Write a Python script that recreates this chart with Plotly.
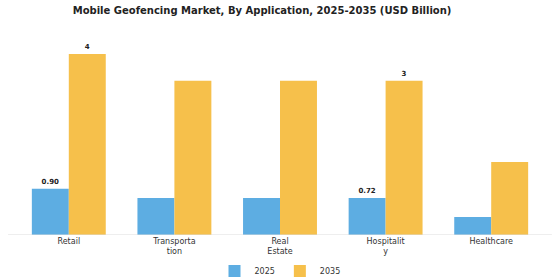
import plotly.graph_objects as go

categories = ["Retail", "Transporta<br>tion", "Real<br>Estate", "Hospitalit<br>y", "Healthcare"]
values_2025 = [0.90, 0.72, 0.72, 0.72, 0.35]
values_2035 = [3.52, 3.00, 3.00, 3.00, 1.42]
labels_2025 = ["0.90", "", "", "0.72", ""]
labels_2035 = ["4", "", "", "3", ""]

font_family = "DejaVu Sans, Verdana, sans-serif"

fig = go.Figure()
fig.add_trace(go.Bar(
    x=categories, y=values_2025, name="2025",
    marker=dict(color="#5DADE2", line=dict(width=0)),
    text=labels_2025, textposition="outside", cliponaxis=False,
    textfont=dict(size=7, color="#222222", family=font_family, weight="bold"),
))
fig.add_trace(go.Bar(
    x=categories, y=values_2035, name="2035",
    marker=dict(color="#F6C04B", line=dict(width=0)),
    text=labels_2035, textposition="outside", cliponaxis=False,
    textfont=dict(size=7, color="#222222", family=font_family, weight="bold"),
))

fig.update_layout(
    width=560, height=280,
    margin=dict(l=16, r=16, t=40, b=45, autoexpand=False),
    paper_bgcolor="white", plot_bgcolor="white",
    barmode="group", bargap=0.3, bargroupgap=0,
    title=dict(text="<b>Mobile Geofencing Market, By Application, 2025-2035 (USD Billion)</b>",
               x=0.468, xanchor="center", y=0.962, yanchor="middle",
               font=dict(size=10, color="#222222", family=font_family)),
    font=dict(family=font_family, size=8, color="#333333"),
    legend=dict(orientation="h", x=0.5, xanchor="center", y=-0.11, yanchor="top",
                bgcolor="rgba(0,0,0,0)",
                font=dict(size=8, color="#333333"), itemwidth=30),
    showlegend=True,
)
fig.update_xaxes(showgrid=False, showline=False, ticks="", automargin=False,
                 tickfont=dict(size=8, color="#333333"))
fig.update_yaxes(visible=False, range=[0, 3.79], showgrid=False, zeroline=False, automargin=False)
fig.add_shape(type="line", xref="paper", yref="y", x0=-0.015, x1=1.015, y0=0, y1=0,
              line=dict(color="#dddddd", width=1))

fig.write_html("out.html")
